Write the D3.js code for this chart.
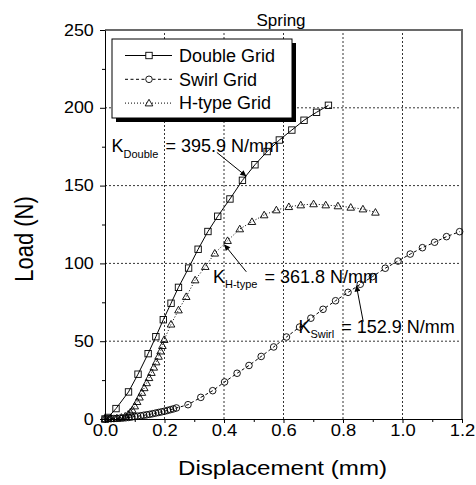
<!DOCTYPE html>
<html>
<head>
  <meta charset="UTF-8">
  <title>Spring</title>
  <script src="https://cdn.jsdelivr.net/npm/d3@7"></script>
  <style>
    body { margin: 0; background: #fff; }
    text { font-family: "Liberation Sans", Arial, sans-serif; fill: #000; }
  </style>
</head>
<body>
<svg id="svg" width="476" height="485"></svg>
<script type="text/javascript">

// data (x in mm, load in N)
var doubleX = [0, 0.010, 0.037, 0.079, 0.111, 0.145, 0.171, 0.196, 0.222, 0.247, 0.281, 0.313, 0.346, 0.379,
  0.420, 0.462, 0.504, 0.545, 0.586, 0.628, 0.669, 0.711, 0.751];
var doubleY = [0, 1.0, 6.7, 17.4, 28.8, 42.0, 52.9, 63.8, 74.4, 84.6, 97.0, 109.1, 120.5, 130.3,
  141.4, 153.4, 163.4, 171.9, 179.3, 185.7, 192.0, 197.1, 201.6];

var swirlX = [0, 0.01, 0.02, 0.03, 0.04, 0.05, 0.06, 0.07, 0.08, 0.09, 0.10, 0.11, 0.12, 0.13, 0.14, 0.15,
  0.16, 0.17, 0.18, 0.19, 0.20, 0.21, 0.22, 0.23, 0.24,
  0.279, 0.322, 0.362, 0.402, 0.444, 0.484, 0.525, 0.567, 0.610, 0.654, 0.692, 0.733, 0.775, 0.817,
  0.858, 0.899, 0.942, 0.985, 1.026, 1.067, 1.108, 1.148, 1.192];
var swirlY = [0, 0.1, 0.2, 0.3, 0.4, 0.5, 0.6, 0.8, 1.0, 1.3, 1.6, 1.8, 2.1, 2.4, 2.7, 3.0,
  3.4, 3.8, 4.2, 4.6, 5.0, 5.5, 6.0, 6.5, 7.1,
  9.2, 13.9, 18.2, 23.8, 29.4, 34.4, 40.2, 46.3, 52.7, 59.1, 64.8, 70.5, 76.0, 81.4,
  86.6, 91.5, 96.9, 101.5, 106.0, 110.1, 113.6, 117.2, 120.4];

var htypeX = [0, 0.02, 0.04, 0.055, 0.068, 0.078, 0.085, 0.092, 0.100, 0.108, 0.116, 0.124, 0.132, 0.140,
  0.148, 0.156, 0.164, 0.172, 0.180, 0.187, 0.193, 0.199, 0.222, 0.247, 0.273, 0.303, 0.337, 0.369,
  0.412, 0.453, 0.494, 0.535, 0.576, 0.618, 0.658, 0.701, 0.742, 0.783, 0.826, 0.867, 0.909];
var htypeY = [0, 0.2, 0.5, 1.0, 1.8, 3.0, 4.3, 5.8, 8.3, 11.1, 14.0, 17.0, 20.0, 23.2,
  26.5, 29.8, 33.2, 36.6, 40.2, 43.6, 47.1, 51.0, 60.9, 70.0, 78.6, 89.3, 97.9, 106.5,
  114.6, 122.1, 126.8, 131.1, 134.3, 136.4, 137.5, 138.2, 137.5, 136.9, 136.0, 134.9, 132.8];

var seriesNames = ['Double Grid', 'Swirl Grid', 'H-type Grid'];
var xTicks = [0, 0.2, 0.4, 0.6, 0.8, 1.0, 1.2];
var xMinor = [0.1, 0.3, 0.5, 0.7, 0.9, 1.1];
var yTicks = [0, 50, 100, 150, 200, 250];
var yMinor = [25, 75, 125, 175, 225];

// annotations: stiffness label, where the label sits, arrow from / to (data units)
var stiffK = ['Double', 'H-type', 'Swirl'];
var stiffVal = ['= 395.9 N/mm', '= 361.8 N/mm', '= 152.9 N/mm'];
var stiffAt = [[0.022, 171.5], [0.363, 87.5], [0.650, 55.3]];
var arrowFrom = [[0.376, 171.3], [0.475, 94.6], [0.868, 62.6]];
var arrowTo = [[0.475, 156.0], [0.401, 112.1], [0.845, 85.8]];

var svg = d3.select('#svg');

var x = d3.scaleLinear().domain([0, 1.2]).range([105, 462]);
var y = d3.scaleLinear().domain([0, 250]).range([419, 30]);

// grid
svg.append('g').selectAll('line').data([0.2, 0.4, 0.6, 0.8, 1.0]).enter().append('line')
  .attr('x1', d => x(d)).attr('x2', d => x(d)).attr('y1', y(0)).attr('y2', y(250))
  .attr('stroke', '#000').attr('stroke-width', 0.8).attr('stroke-dasharray', '2,2');
svg.append('g').selectAll('line').data([50, 100, 150, 200]).enter().append('line')
  .attr('x1', x(0)).attr('x2', x(1.2)).attr('y1', d => y(d)).attr('y2', d => y(d))
  .attr('stroke', '#000').attr('stroke-width', 0.8).attr('stroke-dasharray', '2,2');

// frame top / right
svg.append('path')
  .attr('d', 'M' + x(0) + ',' + y(250) + 'H' + x(1.2) + 'V' + y(0))
  .attr('fill', 'none').attr('stroke', '#6a6a6a').attr('stroke-width', 2);

// axes
var gx = svg.append('g').attr('transform', 'translate(0,' + y(0) + ')')
  .call(d3.axisBottom(x).tickValues(xTicks).tickFormat(d3.format('.1f')).tickSize(4).tickSizeOuter(0).tickPadding(1.5));
svg.append('g').attr('transform', 'translate(0,' + y(0) + ')')
  .call(d3.axisBottom(x).tickValues(xMinor).tickFormat('').tickSize(3).tickSizeOuter(0))
  .select('.domain').remove();
var gy = svg.append('g').attr('transform', 'translate(' + x(0) + ',0)')
  .call(d3.axisLeft(y).tickValues(yTicks).tickSize(5).tickSizeOuter(0).tickPadding(5));
svg.append('g').attr('transform', 'translate(' + x(0) + ',0)')
  .call(d3.axisLeft(y).tickValues(yMinor).tickFormat('').tickSize(3).tickSizeOuter(0))
  .select('.domain').remove();

svg.selectAll('.tick line, .domain').attr('stroke', '#000');
gx.selectAll('text').attr('font-size', 16).attr('font-family', null).attr('transform', 'scale(1.15,1)');
gy.selectAll('text').attr('font-size', 16).attr('font-family', null).attr('transform', 'scale(1.12,1)');
gx.attr('font-family', null); gy.attr('font-family', null);

// axis titles
svg.append('text').attr('x', 282.5).attr('y', 475).attr('text-anchor', 'middle')
  .attr('font-size', 21).attr('textLength', 209).attr('lengthAdjust', 'spacingAndGlyphs')
  .text('Displacement (mm)');
svg.append('text').attr('transform', 'translate(33,239) rotate(-90) scale(1,1.18)')
  .attr('text-anchor', 'middle').attr('font-size', 22).text('Load (N)');
svg.append('text').attr('x', 281).attr('y', 26).attr('text-anchor', 'middle')
  .attr('font-size', 17).text('Spring');

// series
function pts(xs, ys) { return xs.map((d, i) => [d, ys[i]]); }
var series = [
  { data: pts(doubleX, doubleY), dash: null, shape: 'square' },
  { data: pts(swirlX, swirlY), dash: '3,2.5', shape: 'circle' },
  { data: pts(htypeX, htypeY), dash: '1,2', shape: 'triangle' }
];

var line = d3.line().x(d => x(d[0])).y(d => y(d[1]));

function marker(g, shape, cx, cy) {
  if (shape === 'square') {
    g.append('rect').attr('x', cx - 3.2).attr('y', cy - 3.2).attr('width', 6.4).attr('height', 6.4);
  } else if (shape === 'circle') {
    g.append('circle').attr('cx', cx).attr('cy', cy).attr('r', 3.3);
  } else {
    g.append('path').attr('d', 'M' + cx + ',' + (cy - 3.8) + 'L' + (cx + 3.8) + ',' + (cy + 2.8) + 'L' + (cx - 3.8) + ',' + (cy + 2.8) + 'Z');
  }
}

series.forEach(function(s) {
  svg.append('path').datum(s.data).attr('d', line)
    .attr('fill', 'none').attr('stroke', '#000').attr('stroke-width', 1)
    .attr('stroke-dasharray', s.dash);
  var g = svg.append('g').attr('fill', 'none').attr('stroke', '#000').attr('stroke-width', 0.9);
  s.data.forEach(d => marker(g, s.shape, x(d[0]), y(d[1])));
});

// legend
var leg = svg.append('g');
leg.append('rect').attr('x', 116).attr('y', 43).attr('width', 180).attr('height', 79).attr('fill', '#000');
leg.append('rect').attr('x', 112).attr('y', 39).attr('width', 180).attr('height', 79)
  .attr('fill', '#fff').attr('stroke', '#000').attr('stroke-width', 1);
seriesNames.forEach(function(name, i) {
  var cy = 55.5 + i * 23.8;
  leg.append('line').attr('x1', 125).attr('x2', 172).attr('y1', cy).attr('y2', cy)
    .attr('stroke', '#000').attr('stroke-dasharray', series[i].dash);
  var g = leg.append('g').attr('fill', '#fff').attr('stroke', '#000').attr('stroke-width', 0.9);
  marker(g, series[i].shape, 149, cy);
  leg.append('text').attr('x', 179).attr('y', cy + 6.3).attr('font-size', 18).text(name);
});

// stiffness annotations
svg.append('defs').append('marker').attr('id', 'arr')
  .attr('viewBox', '0 0 10 10').attr('refX', 10).attr('refY', 5)
  .attr('markerWidth', 8).attr('markerHeight', 6).attr('markerUnits', 'userSpaceOnUse')
  .attr('orient', 'auto')
  .append('path').attr('d', 'M0,0L10,5L0,10Z').attr('fill', '#000');

stiffK.forEach(function(k, i) {
  var t = svg.append('text').attr('x', x(stiffAt[i][0])).attr('y', y(stiffAt[i][1])).attr('font-size', 18);
  t.append('tspan').text('K');
  t.append('tspan').attr('font-size', 11).attr('dy', 5.5).text(k);
  t.append('tspan').attr('dy', -5.5).attr('dx', 2).text(' ' + stiffVal[i]);
  svg.append('line')
    .attr('x1', x(arrowFrom[i][0])).attr('y1', y(arrowFrom[i][1]))
    .attr('x2', x(arrowTo[i][0])).attr('y2', y(arrowTo[i][1]))
    .attr('stroke', '#000').attr('stroke-width', 1).attr('marker-end', 'url(#arr)');
});

</script>
</body>
</html>
